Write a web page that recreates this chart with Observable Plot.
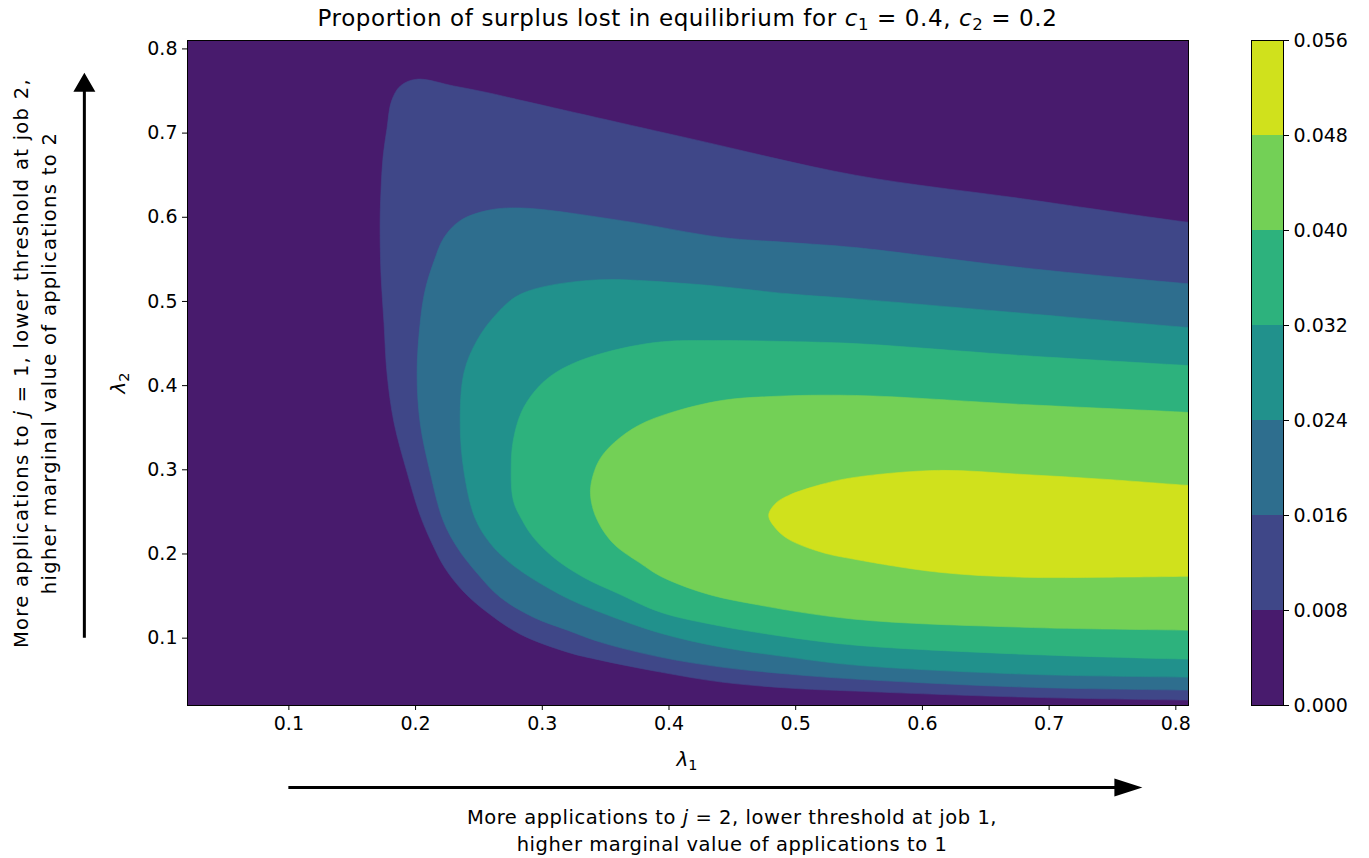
<!DOCTYPE html>
<html>
<head>
<meta charset="utf-8">
<script src="https://cdn.jsdelivr.net/npm/d3@7"></script>
<script src="https://cdn.jsdelivr.net/npm/@observablehq/plot@0.6"></script>
<style>
  body { margin: 0; background: #fff; }
  #root { position: relative; width: 1369px; height: 858px; font-family: "DejaVu Sans", sans-serif; color: #000; overflow: hidden; }
  .abs { position: absolute; white-space: nowrap; }
  sub { font-size: 0.72em; vertical-align: -0.25em; line-height: 0; }
</style>
</head>
<body>
<div id="root">
  <div class="abs" id="title" style="left:187px;width:1001px;top:5px;line-height:26px;text-align:center;font-size:23px;letter-spacing:0.6px;">Proportion of surplus lost in equilibrium for <i>c</i><sub>1</sub> = 0.4, <i>c</i><sub>2</sub> = 0.2</div>
  <div class="abs" id="xlabel" style="left:587px;width:200px;top:746px;line-height:26px;text-align:center;font-size:20px;"><i>λ</i><sub>1</sub></div>
  <div class="abs" id="ylabel" style="left:18px;width:200px;top:370px;line-height:26px;text-align:center;font-size:20px;transform:rotate(-90deg);"><i>λ</i><sub>2</sub></div>
  <div class="abs" id="bottomnote" style="left:432px;width:600px;top:804px;text-align:center;font-size:19.5px;letter-spacing:0.55px;line-height:27px;">More applications to <i>j</i> = 2, lower threshold at job 1,<br>higher marginal value of applications to 1</div>
  <div class="abs" id="leftnote" style="left:-264px;width:600px;top:335px;text-align:center;font-size:19.5px;letter-spacing:1.3px;line-height:28px;transform:rotate(-90deg);">More applications to <i>j</i> = 1, lower threshold at job 2,<br>higher marginal value of applications to 2</div>
</div>
<script>
// ---- data ----
const thresholds = [0, 0.008, 0.016, 0.024, 0.032, 0.040, 0.048, 0.056];
const xTicks = [0.1, 0.2, 0.3, 0.4, 0.5, 0.6, 0.7, 0.8];
const yTicks = [0.1, 0.2, 0.3, 0.4, 0.5, 0.6, 0.7, 0.8];
const colorbarTicks = [0, 0.008, 0.016, 0.024, 0.032, 0.040, 0.048, 0.056];

// boundary of the region where surplus lost >= threshold, as [lambda1, lambda2]
const contour008 = [[0.83,0.591],[0.81,0.594],[0.679,0.622],[0.547,0.650],[0.415,0.694],[0.283,0.739],[0.257,0.748],[0.230,0.756],[0.201,0.764],[0.188,0.756],[0.181,0.738],[0.1775,0.706],[0.1743,0.671],[0.1727,0.631],[0.172,0.592],[0.1727,0.533],[0.1751,0.474],[0.1775,0.414],[0.183,0.356],[0.1933,0.297],[0.2036,0.246],[0.2138,0.210],[0.2233,0.183],[0.2383,0.1546],[0.2565,0.1308],[0.2826,0.1047],[0.3198,0.0834],[0.3458,0.0739],[0.3933,0.0597],[0.4415,0.0478],[0.4945,0.0407],[0.547,0.0371],[0.679,0.030],[0.81,0.0264],[0.83,0.026]];
const contour016 = [[0.83,0.519],[0.81,0.521],[0.679,0.540],[0.547,0.564],[0.4945,0.570],[0.4415,0.576],[0.3625,0.596],[0.2834,0.611],[0.2565,0.608],[0.2352,0.596],[0.2225,0.576],[0.2146,0.548],[0.2075,0.513],[0.2036,0.474],[0.2012,0.414],[0.2036,0.356],[0.2115,0.297],[0.2217,0.240],[0.2328,0.208],[0.2486,0.1771],[0.2668,0.1486],[0.2929,0.1249],[0.3198,0.1095],[0.3458,0.0953],[0.3933,0.0775],[0.4415,0.0656],[0.4945,0.0573],[0.547,0.0514],[0.679,0.0419],[0.81,0.0383],[0.83,0.038]];
const contour024 = [[0.83,0.467],[0.81,0.469],[0.679,0.486],[0.547,0.503],[0.4945,0.509],[0.4154,0.521],[0.3364,0.525],[0.2834,0.509],[0.2644,0.486],[0.2486,0.454],[0.2383,0.416],[0.2352,0.356],[0.2383,0.297],[0.247,0.2423],[0.2589,0.2127],[0.2731,0.1913],[0.2905,0.1724],[0.3198,0.1474],[0.3458,0.1308],[0.3933,0.1059],[0.4415,0.0893],[0.4945,0.0775],[0.547,0.068],[0.679,0.0573],[0.81,0.0537],[0.83,0.0535]];
const contour032 = [[0.83,0.422],[0.81,0.4238],[0.679,0.4357],[0.547,0.4499],[0.4945,0.4523],[0.4415,0.4535],[0.3885,0.4511],[0.3364,0.4333],[0.3095,0.4144],[0.2945,0.3942],[0.2834,0.3681],[0.2771,0.3349],[0.2755,0.3052],[0.2771,0.2637],[0.2842,0.240],[0.2929,0.2198],[0.3087,0.1961],[0.3324,0.1724],[0.3593,0.1534],[0.3933,0.1308],[0.4415,0.1142],[0.4945,0.1012],[0.547,0.0917],[0.679,0.081],[0.81,0.0751],[0.83,0.0745]];
const contour040 = [[0.83,0.366],[0.81,0.3681],[0.679,0.3776],[0.547,0.3883],[0.481,0.3871],[0.4415,0.3823],[0.402,0.3681],[0.3759,0.3527],[0.3569,0.3325],[0.3458,0.3135],[0.3403,0.2945],[0.3380,0.2756],[0.3395,0.2566],[0.3435,0.240],[0.3506,0.2222],[0.3593,0.2079],[0.3775,0.1889],[0.3933,0.1736],[0.4281,0.1534],[0.4676,0.1403],[0.5466,0.1225],[0.679,0.113],[0.81,0.1095],[0.83,0.109]];
const contour048 = [[0.83,0.280],[0.81,0.2815],[0.745,0.2886],[0.679,0.2945],[0.613,0.2993],[0.5466,0.291],[0.5206,0.2827],[0.4945,0.2696],[0.4842,0.2601],[0.4787,0.2459],[0.4842,0.2305],[0.4945,0.2174],[0.5206,0.202],[0.5466,0.1937],[0.613,0.1783],[0.679,0.1724],[0.745,0.1724],[0.81,0.1735],[0.83,0.174]];

// annotation arrows (in the axes' data coordinates)
const arrowUp = {x: -0.061, from: 0.1, to: 0.771};
const arrowRight = {y: -0.078, from: 0.1, to: 0.774};

// ---- drawing ----
const contours = [contour008, contour016, contour024, contour032, contour040, contour048];
const bandColors = d3.range(7).map(i => d3.interpolateViridis(((thresholds[i] + thresholds[i + 1]) / 2) / thresholds[7]));
const font = {fontFamily: "DejaVu Sans, sans-serif", fontSize: "19px", color: "#000", background: "transparent", overflow: "visible"};

const main = Plot.plot({
  width: 1230, height: 858,
  marginLeft: 187, marginRight: 42, marginTop: 40, marginBottom: 153,
  style: font,
  x: {domain: [0.02, 0.81], label: null},
  y: {domain: [0.02, 0.81], label: null},
  marks: [
    Plot.frame({fill: bandColors[0], stroke: null}),
    ...contours.map((c, i) => Plot.line(c, {
      x: d => d[0], y: d => d[1],
      fill: bandColors[i + 1], stroke: bandColors[i + 1], strokeWidth: 0.6,
      curve: "catmull-rom", clip: true
    })),
    Plot.frame({stroke: "#000", strokeWidth: 1}),
    Plot.axisX(xTicks, {tickSize: 5, tickPadding: 6, tickFormat: d3.format(".1f"), label: null}),
    Plot.axisY(yTicks, {tickSize: 5, tickPadding: 5, tickFormat: d3.format(".1f"), label: null})
  ]
});
main.style.position = "absolute";
main.style.left = "0px";
main.style.top = "0px";

// arrows, placed through the chart scales
(function drawArrows() {
  const sx = main.scale("x"), sy = main.scale("y");
  const g = d3.select(main).append("g").attr("fill", "#000").attr("stroke", "none");
  const sw = 1.5;
  const vx = sx.apply(arrowUp.x), vy0 = sy.apply(arrowUp.from), vy1 = sy.apply(arrowUp.to);
  const hl = 19, hw = 11;
  g.append("path").attr("d", `M${vx - sw},${vy0} L${vx + sw},${vy0} L${vx + sw},${vy1 + hl} L${vx + hw},${vy1 + hl} L${vx},${vy1} L${vx - hw},${vy1 + hl} L${vx - sw},${vy1 + hl} Z`);
  const hy = sy.apply(arrowRight.y), hx0 = sx.apply(arrowRight.from), hx1 = sx.apply(arrowRight.to);
  const hl2 = 28, hw2 = 9;
  g.append("path").attr("d", `M${hx0},${hy - sw} L${hx0},${hy + sw} L${hx1 - hl2},${hy + sw} L${hx1 - hl2},${hy + hw2} L${hx1},${hy} L${hx1 - hl2},${hy - hw2} L${hx1 - hl2},${hy - sw} Z`);
})();

const bands = d3.range(7).map(i => ({lo: thresholds[i], hi: thresholds[i + 1], color: bandColors[i]}));
const colorbar = Plot.plot({
  width: 139, height: 858,
  marginLeft: 21, marginRight: 86, marginTop: 40, marginBottom: 153,
  style: font,
  x: {domain: [0, 1], axis: null},
  y: {domain: [0, 0.056], label: null},
  color: {type: "identity"},
  marks: [
    Plot.rect(bands, {x1: 0, x2: 1, y1: "lo", y2: "hi", fill: "color"}),
    Plot.frame({stroke: "#000", strokeWidth: 1}),
    Plot.axisY(colorbarTicks, {anchor: "right", tickSize: 5, tickPadding: 5, tickFormat: d3.format(".3f"), label: null})
  ]
});
colorbar.style.position = "absolute";
colorbar.style.left = "1230px";
colorbar.style.top = "0px";

const root = document.getElementById("root");
root.insertBefore(colorbar, root.firstChild);
root.insertBefore(main, root.firstChild);
</script>
</body>
</html>
